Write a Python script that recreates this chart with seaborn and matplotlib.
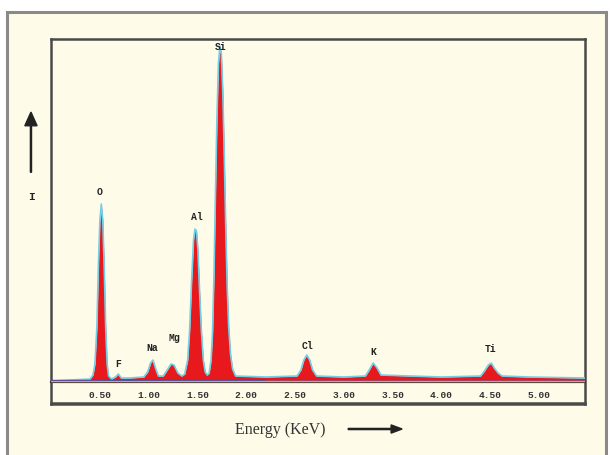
import matplotlib
matplotlib.use("Agg")
import matplotlib.pyplot as plt
from matplotlib.patches import Rectangle, FancyArrow
import pandas as pd
import seaborn as sns

# spectrum outline (energy in keV, intensity in arbitrary units)
energy = [0.00, 0.20, 0.40, 0.43, 0.45, 0.47, 0.485, 0.50, 0.515, 0.53, 0.545,
          0.56, 0.575, 0.59, 0.62, 0.66, 0.69, 0.72, 0.80, 0.95, 0.99, 1.02,
          1.045, 1.07, 1.10, 1.15, 1.19, 1.23, 1.26, 1.30, 1.34, 1.37, 1.40,
          1.42, 1.44, 1.46, 1.475, 1.49, 1.505, 1.52, 1.54, 1.56, 1.58, 1.60,
          1.62, 1.64, 1.655, 1.67, 1.685, 1.70, 1.715, 1.73, 1.745, 1.76,
          1.775, 1.79, 1.805, 1.82, 1.84, 1.86, 1.89, 2.20, 2.52, 2.56, 2.59,
          2.62, 2.65, 2.68, 2.72, 3.00, 3.22, 3.26, 3.30, 3.34, 3.38, 4.00,
          4.40, 4.44, 4.48, 4.51, 4.54, 4.58, 4.62, 4.90, 5.47]
counts = [1, 2, 3, 7, 18, 55, 115, 160, 178, 162, 115,
          55, 18, 6, 3, 5, 8, 4, 4, 5, 10, 19,
          22, 14, 6, 6, 12, 18, 17, 9, 6, 8, 22,
          52, 100, 142, 153, 151, 132, 95, 52, 22, 10, 7,
          9, 22, 50, 110, 190, 265, 318, 336, 328, 290,
          225, 155, 95, 55, 27, 13, 6, 5, 6, 12, 22,
          27, 22, 12, 6, 5, 6, 12, 19, 14, 7, 5,
          6, 11, 17, 19, 14, 9, 6, 5, 4]

elements = ["O", "F", "Na", "Mg", "Al", "Si", "Cl", "K", "Ti"]
label_energy = [0.50, 0.69, 1.04, 1.26, 1.49, 1.74, 2.63, 3.30, 4.50]
label_height = [186, 14, 30, 40, 161, 331, 32, 26, 29]

tick_values = [0.5, 1.0, 1.5, 2.0, 2.5, 3.0, 3.5, 4.0, 4.5, 5.0]

df = pd.DataFrame({"Energy": energy, "Counts": counts})

sns.set_style("white")
cream = "#fefbe9"
fig = plt.figure(figsize=(6.13, 4.56), dpi=100)
fig.patch.set_facecolor("white")

# outer panel with grey border
panel = Rectangle((0.012, -0.05), 0.976, 1.021, transform=fig.transFigure,
                  facecolor=cream, edgecolor="#8a8a8a", linewidth=2.2, zorder=-5)
fig.patches.append(panel)

ax = fig.add_axes([0.0832, 0.1118, 0.8711, 0.8005])
ax.set_facecolor(cream)

ax.fill_between(df["Energy"], 0, df["Counts"], color="#e8191c", linewidth=0, zorder=2)
sns.lineplot(data=df, x="Energy", y="Counts", color="#72cfe6", linewidth=1.2,
             ax=ax, zorder=3)
ax.plot([0, 2.2], [2.2, 2.2], color="#3a3fb0", linewidth=1.0, zorder=4)
ax.plot([2.2, 5.47], [2.2, 2.2], color="#9a2c6a", linewidth=1.0, zorder=4)
ax.plot([0, 5.47], [0.8, 0.8], color="#f09a50", linewidth=1.0, zorder=4)

for name, e, h in zip(elements, label_energy, label_height):
    ax.text(e, h, name, ha="center", va="bottom", fontsize=7,
            family="Liberation Mono", fontweight="bold", color="#222222", zorder=5)

# move the x axis up to the zero line (this resets ticks, so do it first)
ax.spines["bottom"].set_position(("data", 0))
ax.spines["bottom"].set_color("#3a3a3a")
ax.spines["bottom"].set_linewidth(1.6)
for side in ["top", "left", "right"]:
    ax.spines[side].set_color("#4a4a4a")
    ax.spines[side].set_linewidth(1.8)
ax.add_patch(Rectangle((0, 0), 1, 0.002, transform=ax.transAxes, facecolor="none",
                       edgecolor="#4a4a4a", linewidth=1.8, clip_on=False))

ax.set_xlim(0, 5.47)
ax.set_ylim(-22, 343)
ax.set_xticks(tick_values)
ax.set_xticklabels(["%.2f" % t for t in tick_values])
ax.set_yticks([])
ax.set_xlabel("")
ax.set_ylabel("")
ax.tick_params(axis="x", direction="out", length=3, width=1, color="#333333",
               pad=3, labelsize=6.8, labelcolor="#333333")
for lab in ax.get_xticklabels():
    lab.set_family("Liberation Mono")
    lab.set_fontweight("bold")

# axis labels with arrows
fig.text(0.457, 0.057, "Energy (KeV)", ha="center", va="center",
         family="Liberation Serif", fontsize=11.5, color="#333333")
fig.patches.append(FancyArrow(
    0.568, 0.057, 0.088, 0, width=0.0025, head_width=0.018, head_length=0.018,
    length_includes_head=True, transform=fig.transFigure, color="#222222"))
fig.patches.append(FancyArrow(
    0.0505, 0.62, 0, 0.132, width=0.0018, head_width=0.02, head_length=0.03,
    length_includes_head=True, transform=fig.transFigure, color="#222222"))
fig.text(0.0505, 0.568, "I", ha="center", va="center", family="Liberation Mono",
         fontsize=8, fontweight="bold", color="#222222")

fig.savefig("out.png", dpi=100, facecolor=fig.get_facecolor())
